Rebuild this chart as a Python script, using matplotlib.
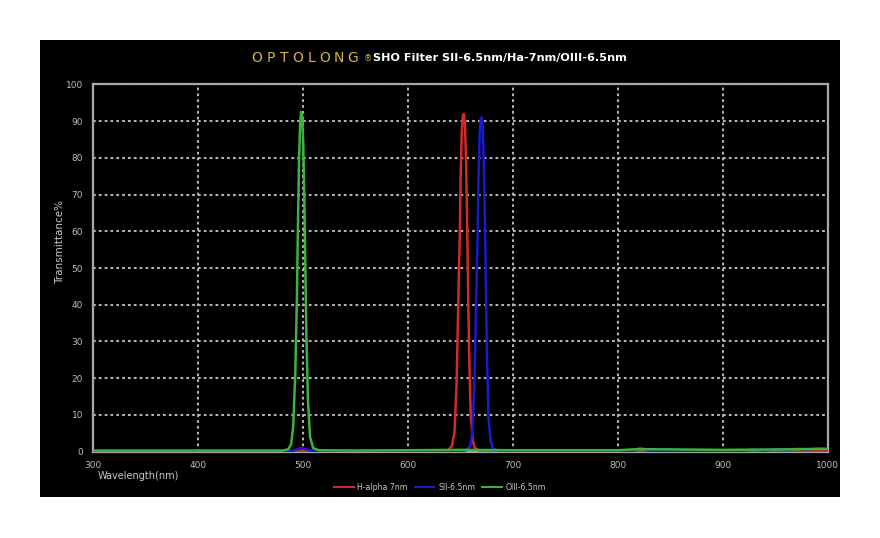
import matplotlib
matplotlib.use("Agg")
import matplotlib.pyplot as plt
from matplotlib.patches import Rectangle
from matplotlib.lines import Line2D

# wavelength (nm) / transmittance (%)
ha_wl = [300, 400, 500, 600, 630, 638, 642, 644.5, 646.5, 648, 649.5, 650.5, 651.5, 652.5,
         653.5, 654.5, 655.5, 656.5, 657.5, 658.5, 660, 662, 664, 668, 700, 800, 900, 1000]
ha_t = [0.2, 0.2, 0.2, 0.2, 0.3, 0.3, 1.5, 5, 18, 38, 58, 76, 87, 91.5,
        92, 89, 80, 64, 45, 27, 10, 3, 1, 0.3, 0.2, 0.2, 0.2, 0.2]

sii_wl = [300, 400, 490, 495, 499, 503, 510, 600, 650, 655, 659.5, 661.5, 663.5, 665, 666.5,
          667.5, 668.5, 669.5, 670.5, 671.5, 672.5, 673.5, 674.5, 675.5, 677, 679, 681,
          686, 700, 800, 815, 822, 829, 850, 900, 920, 930, 940, 950, 960, 970, 980, 990, 1000]
sii_t = [0.1, 0.1, 0.2, 0.7, 1.0, 0.7, 0.2, 0.1, 0.2, 0.3, 1.5, 5, 18, 38, 58,
         75, 86, 90.5, 91, 88, 79, 63, 44, 26, 9, 3, 1,
         0.3, 0.2, 0.2, 0.3, 1.1, 0.3, 0.2, 0.3, 0.3, 0.6, 0.3, 0.7, 0.5, 0.8, 0.6, 0.9, 0.7]

oiii_wl = [300, 400, 480, 486, 489, 491, 493, 494.5, 495.5, 496.5, 497.5, 498.5,
           499.5, 500.5, 501.5, 502.5, 503.5, 505, 507, 510, 515, 550, 600, 650, 700,
           800, 820, 900, 950, 1000]
oiii_t = [0.3, 0.3, 0.3, 0.6, 2, 7, 22, 42, 62, 79, 89, 92.5,
          91, 84, 70, 51, 32, 14, 4, 1, 0.4, 0.3, 0.4, 0.5, 0.4,
          0.4, 0.7, 0.5, 0.6, 0.8]

x_ticks = [300, 400, 500, 600, 700, 800, 900, 1000]
y_ticks = [0, 10, 20, 30, 40, 50, 60, 70, 80, 90, 100]
series_labels = ["H-alpha 7nm", "SII-6.5nm", "OIII-6.5nm"]
series_colors = ["#d42a2a", "#1a1ad0", "#3cb43c"]

W, H = 880, 538
fig = plt.figure(figsize=(W / 100, H / 100), dpi=100)
fig.patch.set_facecolor("white")

# black panel behind the chart
fig.patches.append(Rectangle((40 / W, 1 - 497 / H), 800 / W, 457 / H,
                             transform=fig.transFigure, facecolor="black",
                             edgecolor="none", zorder=-5))

ax = fig.add_axes([92.7 / W, 1 - 451.7 / H, 735 / W, 367.4 / H])
ax.set_facecolor("black")

for wl, t, c in zip([ha_wl, sii_wl, oiii_wl], [ha_t, sii_t, oiii_t], series_colors):
    ax.plot(wl, t, color=c, lw=1.8, zorder=3)

ax.set_xlim(300, 1000)
ax.set_ylim(0, 100)
ax.set_xticks(x_ticks)
ax.set_yticks(y_ticks)
ax.tick_params(length=0, labelsize=6.5, colors="#bdbdbd", pad=7)

ax.grid(True, color="#b4b4b4", linestyle=(0, (1.3, 1.5)), linewidth=1.5, zorder=1)
for s in ax.spines.values():
    s.set_color("#a8a8a8")
    s.set_linewidth(1.6)

fig.text(60 / W, 1 - 242 / H, "Transmittance%", rotation=90, ha="center", va="center",
         color="#c8c8c8", fontsize=7.5)
fig.text(98 / W, 1 - 476 / H, "Wavelength(nm)", ha="left", va="center",
         color="#c8c8c8", fontsize=7)

# title: spaced brand name + filter name
brand = "OPTOLONG"
for i, ch in enumerate(brand):
    fig.text((257 + i * 13.6) / W, 1 - 58 / H, ch, ha="center", va="center",
             color="#d4b24a", fontsize=10)
fig.text(364 / W, 1 - 59 / H, "®", ha="left", va="center", color="#d4b24a", fontsize=6)
fig.text(373 / W, 1 - 58 / H, "SHO Filter SII-6.5nm/Ha-7nm/OIII-6.5nm", ha="left",
         va="center", color="white", fontsize=8.1, fontweight="bold")

handles = [Line2D([], [], color=c, lw=1.4) for c in series_colors]
leg = fig.legend(handles, series_labels, loc="center", bbox_to_anchor=(440 / W, 1 - 487 / H),
                 ncol=3, frameon=False, fontsize=5.6, handlelength=2.5, handletextpad=0.5,
                 columnspacing=0.9)
for txt in leg.get_texts():
    txt.set_color("#c8c8c8")

fig.savefig("out.png", dpi=100, facecolor="white")
